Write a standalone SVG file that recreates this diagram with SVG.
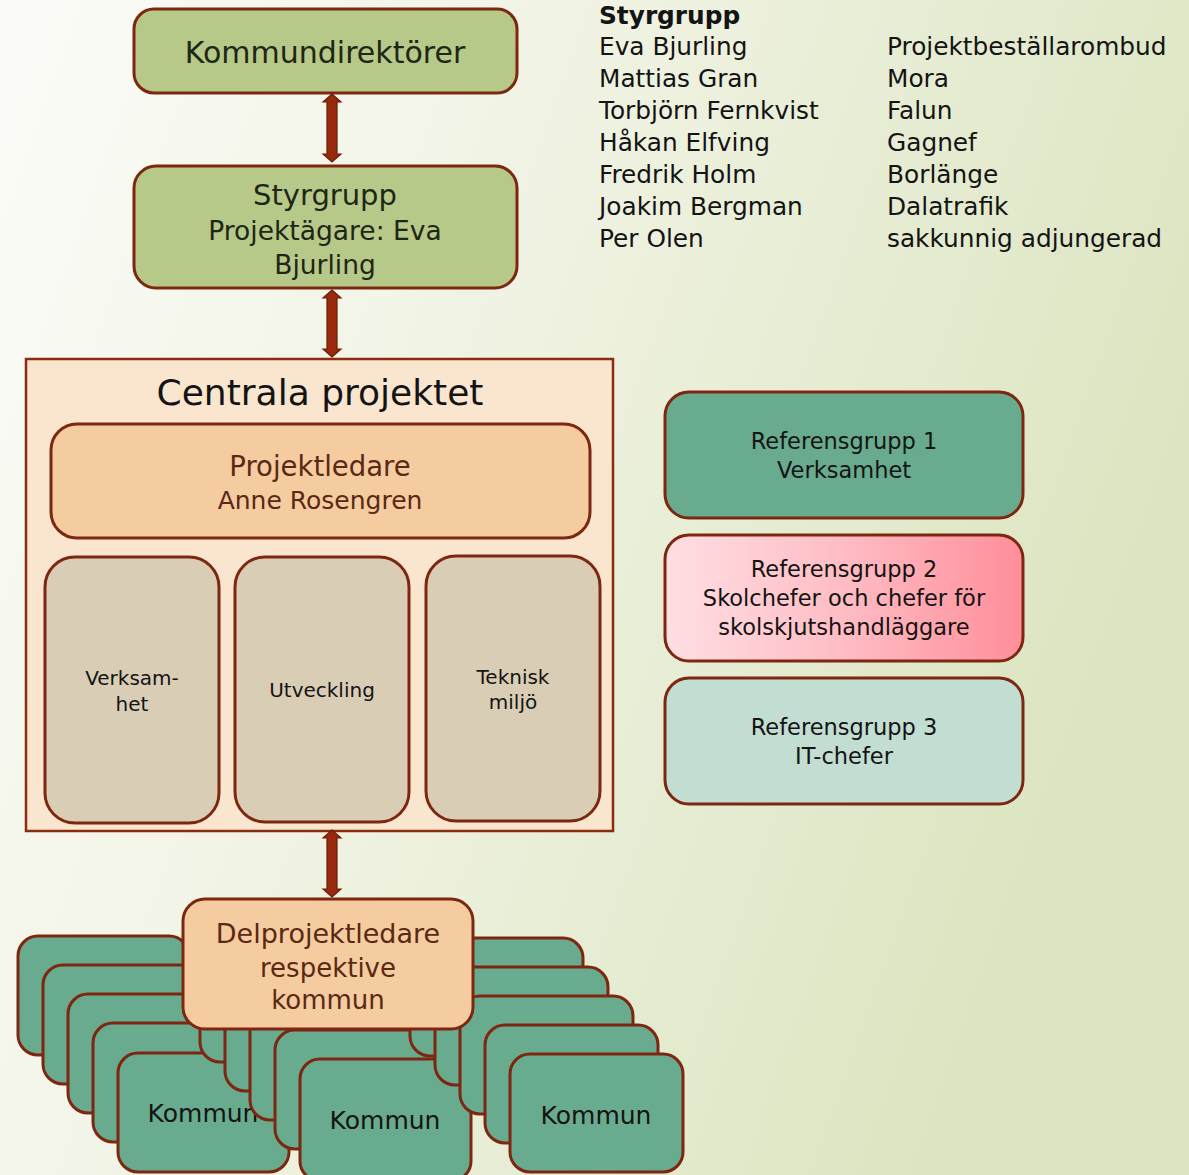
<svg xmlns="http://www.w3.org/2000/svg" width="1189" height="1175" viewBox="0 0 1189 1175">
<defs>
<linearGradient id="bg" x1="0" y1="0" x2="1" y2="0.35">
<stop offset="0" stop-color="#fbfcf8"/>
<stop offset="0.45" stop-color="#f0f3e3"/>
<stop offset="1" stop-color="#dce5c1"/>
</linearGradient>
<linearGradient id="pink" x1="0" y1="0" x2="1" y2="0">
<stop offset="0" stop-color="#ffdfe3"/>
<stop offset="0.5" stop-color="#ffbcc4"/>
<stop offset="1" stop-color="#ff8e9a"/>
</linearGradient>
<style>
text{font-family:"DejaVu Sans","Liberation Sans",sans-serif;text-anchor:middle}
.box{stroke:#7e2710;stroke-width:3}
.green{fill:#b6c988}
.peach{fill:#f5cba0}
.tan{fill:#dacdb5}
.teal{fill:#69ab8f}
.mint{fill:#c2ded2}
.arrow{fill:#98290c;stroke:#6e1c06;stroke-width:1.2}
.dark{fill:#1f2616}
.brown{fill:#5a2914}
.blk{fill:#141414}
.list text{text-anchor:start;font-size:24.8px;fill:#141414}
</style>
</defs>
<rect width="1189" height="1175" fill="url(#bg)"/>

<g id="kommundirektorer">
<rect class="box green" x="134" y="9" width="383" height="84" rx="20"/>
<text class="dark" x="325" y="63" font-size="30">Kommundirektörer</text>
</g>

<g id="styrgrupp">
<rect class="box green" x="134" y="166" width="383" height="122" rx="22"/>
<text class="dark" x="325" y="205" font-size="29">Styrgrupp</text>
<text class="dark" x="325" y="240" font-size="26.5">Projektägare: Eva</text>
<text class="dark" x="325" y="274" font-size="26.5">Bjurling</text>
</g>

<g id="styrgrupp-lista" class="list">
<text x="599" y="24" font-size="22" font-weight="bold">Styrgrupp</text>
<text x="599" y="55">Eva Bjurling</text>
<text x="599" y="87">Mattias Gran</text>
<text x="599" y="119">Torbjörn Fernkvist</text>
<text x="599" y="151">Håkan Elfving</text>
<text x="599" y="183">Fredrik Holm</text>
<text x="599" y="215">Joakim Bergman</text>
<text x="599" y="247">Per Olen</text>
<text x="887" y="55">Projektbeställarombud</text>
<text x="887" y="87">Mora</text>
<text x="887" y="119">Falun</text>
<text x="887" y="151">Gagnef</text>
<text x="887" y="183">Borlänge</text>
<text x="887" y="215">Dalatrafik</text>
<text x="887" y="247">sakkunnig adjungerad</text>
</g>

<g id="centrala-projektet">
<rect x="26" y="359" width="587" height="472" fill="#fae5cf" stroke="#8a2c0e" stroke-width="2.5"/>
<text class="blk" x="320" y="405" font-size="36">Centrala projektet</text>
</g>

<g id="projektledare">
<rect class="box peach" x="51" y="424" width="539" height="114" rx="26"/>
<text class="brown" x="320" y="476" font-size="27.5">Projektledare</text>
<text class="brown" x="320" y="509" font-size="25">Anne Rosengren</text>
</g>

<g id="verksamhet">
<rect class="box tan" x="45" y="557" width="174" height="266" rx="30"/>
<text class="blk" x="132" y="685" font-size="20">Verksam-</text>
<text class="blk" x="132" y="711" font-size="20">het</text>
</g>
<g id="utveckling">
<rect class="box tan" x="235" y="557" width="174" height="265" rx="30"/>
<text class="blk" x="322" y="697" font-size="20">Utveckling</text>
</g>
<g id="teknisk-miljo">
<rect class="box tan" x="426" y="556" width="174" height="265" rx="30"/>
<text class="blk" x="513" y="684" font-size="20">Teknisk</text>
<text class="blk" x="513" y="709" font-size="20">miljö</text>
</g>

<g id="referensgrupp1">
<rect class="box teal" x="665" y="392" width="358" height="126" rx="24"/>
<text class="blk" x="844" y="449" font-size="22.5">Referensgrupp 1</text>
<text class="blk" x="844" y="478" font-size="22.5">Verksamhet</text>
</g>
<g id="referensgrupp2">
<rect class="box" fill="url(#pink)" x="665" y="535" width="358" height="126" rx="24"/>
<text class="blk" x="844" y="577" font-size="22.5">Referensgrupp 2</text>
<text class="blk" x="844" y="606" font-size="22.5">Skolchefer och chefer för</text>
<text class="blk" x="844" y="635" font-size="22.5">skolskjutshandläggare</text>
</g>
<g id="referensgrupp3">
<rect class="box mint" x="665" y="678" width="358" height="126" rx="24"/>
<text class="blk" x="844" y="735" font-size="22.5">Referensgrupp 3</text>
<text class="blk" x="844" y="764" font-size="22.5">IT-chefer</text>
</g>

<g id="kommun-vanster">
<rect class="box teal" x="18" y="936" width="171" height="119" rx="20"/>
<rect class="box teal" x="43" y="965" width="171" height="119" rx="20"/>
<rect class="box teal" x="68" y="994" width="171" height="119" rx="20"/>
<rect class="box teal" x="93" y="1023" width="171" height="119" rx="20"/>
<rect class="box teal" x="118" y="1053" width="171" height="119" rx="20"/>
<text class="blk" x="203" y="1122" font-size="25">Kommun</text>
</g>
<g id="kommun-mitten">
<rect class="box teal" x="200" y="943" width="172" height="119" rx="20"/>
<rect class="box teal" x="225" y="972" width="172" height="119" rx="20"/>
<rect class="box teal" x="250" y="1001" width="172" height="119" rx="20"/>
<rect class="box teal" x="275" y="1030" width="172" height="119" rx="20"/>
<rect class="box teal" x="300" y="1059" width="171" height="122" rx="20"/>
<text class="blk" x="385" y="1129" font-size="25">Kommun</text>
</g>
<g id="kommun-hoger">
<rect class="box teal" x="410" y="938" width="173" height="118" rx="20"/>
<rect class="box teal" x="435" y="967" width="173" height="118" rx="20"/>
<rect class="box teal" x="460" y="996" width="173" height="118" rx="20"/>
<rect class="box teal" x="485" y="1025" width="173" height="118" rx="20"/>
<rect class="box teal" x="510" y="1054" width="173" height="118" rx="20"/>
<text class="blk" x="596" y="1124" font-size="25">Kommun</text>
</g>

<g id="delprojektledare">
<rect class="box peach" x="183" y="899" width="290" height="130" rx="22"/>
<text class="brown" x="328" y="943" font-size="27">Delprojektledare</text>
<text class="brown" x="328" y="977" font-size="26">respektive</text>
<text class="brown" x="328" y="1009" font-size="26">kommun</text>
</g>

<g id="connectors">
<path class="arrow" d="M332 94 L341 102 L337 102 L337 154 L341 154 L332 162 L323 154 L327 154 L327 102 L323 102 Z"/>
<path class="arrow" d="M332 290 L341 298 L337 298 L337 349 L341 349 L332 357 L323 349 L327 349 L327 298 L323 298 Z"/>
<path class="arrow" d="M332 830 L341 838 L337 838 L337 889 L341 889 L332 897 L323 889 L327 889 L327 838 L323 838 Z"/>
</g>
</svg>
